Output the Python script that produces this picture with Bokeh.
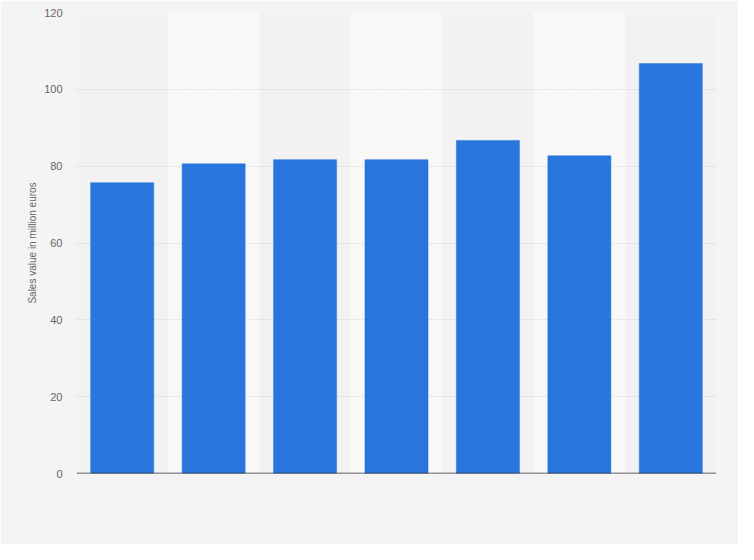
from bokeh.embed import file_html
from bokeh.models import FixedTicker, Span
from bokeh.plotting import figure
from bokeh.resources import INLINE

# x labels are not shown on the chart, so these names stay hidden
categories = ['2012', '2013', '2014', '2015', '2016', '2017', '2018']
sales = [75.7, 80.6, 81.7, 81.7, 86.7, 82.7, 106.7]
y_ticks = [0, 20, 40, 60, 80, 100, 120]

BAR_COLOR = '#2876dd'
TEXT_COLOR = '#666666'


def plot():
    p = figure(
        x_range=categories,
        y_range=(0, 120),
        frame_width=640,
        frame_height=461,
        min_border_left=76,
        min_border_right=22,
        min_border_top=12,
        min_border_bottom=71,
        toolbar_location=None,
        output_backend='svg',
        background_fill_color='#f2f2f2',
        border_fill_color='#f4f4f4',
        outline_line_color=None,
    )

    # lighter bands behind every second category
    p.vbar(x=categories[1::2], top=120, bottom=0, width=1.0,
           fill_color='#f8f8f8', line_color=None, level='underlay')

    p.vbar(x=categories, top=sales, bottom=0, width=0.69,
           fill_color=BAR_COLOR, line_color=BAR_COLOR, line_width=0.5)

    p.xgrid.grid_line_color = None
    p.ygrid.ticker = FixedTicker(ticks=y_ticks)
    p.ygrid.grid_line_color = '#cccccc'
    p.ygrid.grid_line_dash = '1 2'
    p.ygrid.grid_line_width = 1

    p.yaxis.ticker = FixedTicker(ticks=y_ticks)
    p.yaxis.axis_line_color = None
    p.yaxis.major_tick_line_color = None
    p.yaxis.minor_tick_line_color = None
    p.yaxis.major_tick_out = 0
    p.yaxis.minor_tick_out = 0
    p.yaxis.major_label_standoff = 14
    p.yaxis.major_label_text_font = 'Liberation Sans'
    p.yaxis.major_label_text_font_size = '11px'
    p.yaxis.major_label_text_color = TEXT_COLOR
    p.yaxis.axis_label = 'Sales value in million euros'
    p.yaxis.axis_label_text_font = 'Liberation Sans'
    p.yaxis.axis_label_text_font_size = '10px'
    p.yaxis.axis_label_text_font_style = 'normal'
    p.yaxis.axis_label_text_color = TEXT_COLOR
    p.yaxis.axis_label_standoff = 3

    # no category labels on this chart: just the dark baseline at zero
    p.xaxis.visible = False
    p.add_layout(Span(location=0, dimension='width',
                      line_color='#333333', line_width=1.5))
    p.x_range.range_padding = 0

    return p


if __name__ == '__main__':
    p = plot()
    open('out.html', 'w').write(file_html(p, INLINE))
